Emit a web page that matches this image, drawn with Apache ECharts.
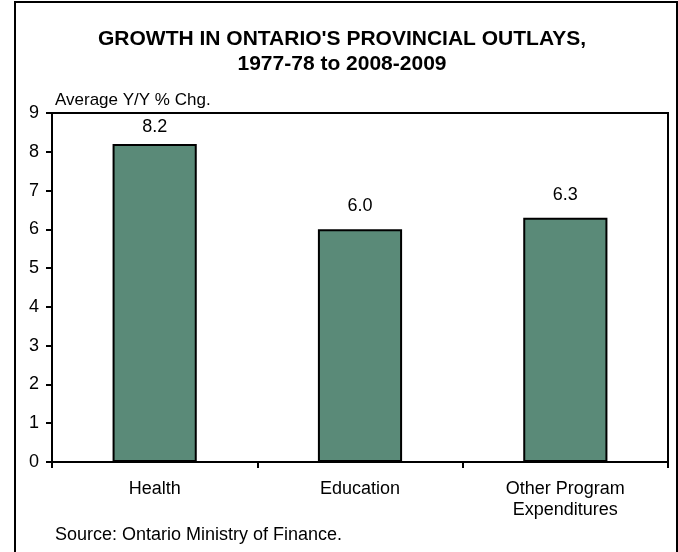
<!DOCTYPE html>
<html>
<head>
<meta charset="utf-8">
<script src="https://cdn.jsdelivr.net/npm/echarts@6/dist/echarts.min.js"></script>
<style>
html,body{margin:0;padding:0;background:#fff;}
#chart{width:678px;height:552px;}
</style>
</head>
<body>
<div id="chart"></div>
<script>
var titleLines = ["GROWTH IN ONTARIO'S PROVINCIAL OUTLAYS,", "1977-78 to 2008-2009"];
var yAxisTitle = "Average Y/Y % Chg.";
var sourceText = "Source: Ontario Ministry of Finance.";
var categories = ["Health", "Education", "Other Program\nExpenditures"];
var values = [8.2, 6.0, 6.3];
var yMin = 0, yMax = 9, yInterval = 1;

var font = "Arial, 'Liberation Sans', sans-serif";
// label gap above each bar (first one is pulled in, as in the original)
var labelGaps = [8, 14, 14];
var barData = values.map(function (v, i) {
  return {value: v, label: {distance: labelGaps[i]}};
});

var chart = echarts.init(document.getElementById('chart'), null, {renderer: 'canvas'});
chart.setOption({
  animation: false,
  backgroundColor: '#fff',
  grid: {left: 52, right: 10, top: 113, bottom: 90, show: true, borderColor: '#000', borderWidth: 2, backgroundColor: 'transparent'},
  xAxis: {
    type: 'category',
    data: categories,
    axisLine: {show: true, lineStyle: {color: '#000', width: 2}},
    axisTick: {show: true, inside: false, length: 6, lineStyle: {color: '#000', width: 2}},
    axisLabel: {color: '#000', fontSize: 18, fontFamily: font, margin: 17, lineHeight: 21}
  },
  yAxis: {
    type: 'value', min: yMin, max: yMax, interval: yInterval,
    splitLine: {show: false},
    axisLine: {show: true, lineStyle: {color: '#000', width: 2}},
    axisTick: {show: true, inside: false, length: 6, lineStyle: {color: '#000', width: 2}},
    axisLabel: {color: '#000', fontSize: 18, fontFamily: font, margin: 13}
  },
  series: [{
    type: 'bar',
    data: barData,
    barWidth: '41%',
    itemStyle: {color: '#5a8a78', borderColor: '#000', borderWidth: 2},
    label: {show: true, position: 'top', distance: 14, color: '#000', fontSize: 18, fontFamily: font,
      formatter: function(p){ return p.value.toFixed(1); }}
  }],
  graphic: [
    {type: 'rect', shape: {x: 15, y: 2, width: 662, height: 600}, style: {fill: 'none', stroke: '#000', lineWidth: 2}, silent: true},
    {type: 'text', x: 342, y: 39, style: {text: titleLines[0], font: 'bold 21px ' + font, fill: '#000', textAlign: 'center', textVerticalAlign: 'middle'}},
    {type: 'text', x: 342, y: 64, style: {text: titleLines[1], font: 'bold 21px ' + font, fill: '#000', textAlign: 'center', textVerticalAlign: 'middle'}},
    {type: 'text', x: 55, y: 100, style: {text: yAxisTitle, font: '17px ' + font, fill: '#000', textAlign: 'left', textVerticalAlign: 'middle'}},
    {type: 'text', x: 55, y: 535, style: {text: sourceText, font: '18px ' + font, fill: '#000', textAlign: 'left', textVerticalAlign: 'middle'}}
  ]
});
</script>
</body>
</html>
